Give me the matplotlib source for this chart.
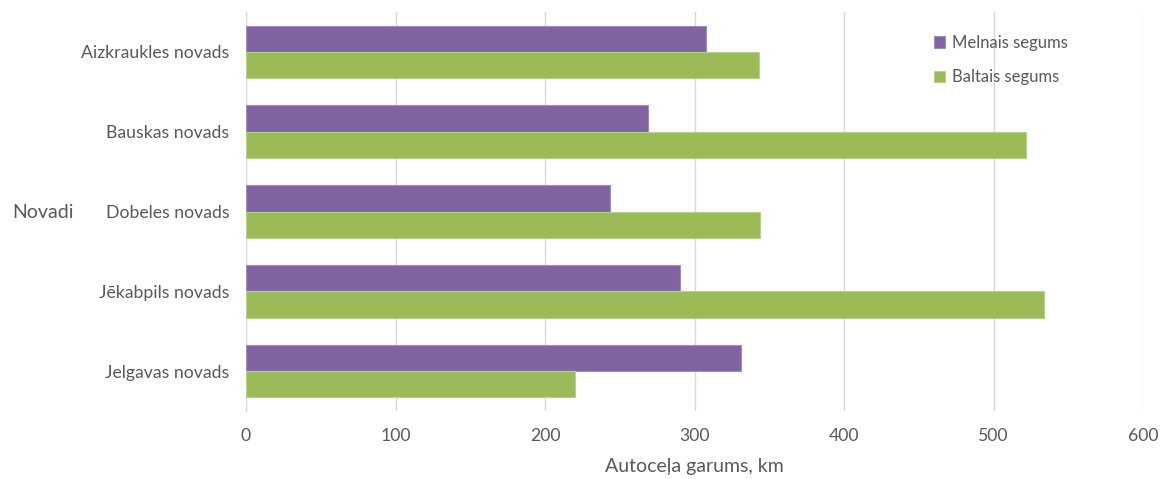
import matplotlib.pyplot as plt
import numpy as np

plt.rcParams['font.family'] = ['Lato', 'DejaVu Sans']

novadi = ["Aizkraukles novads", "Bauskas novads", "Dobeles novads",
          "Jēkabpils novads", "Jelgavas novads"]
melnais = [308, 269, 243.5, 290.5, 331]
baltais = [343, 522, 344, 534, 220]

txt = "#595959"
fig = plt.figure(figsize=(11.61, 4.79), dpi=100)
ax = fig.add_axes([246 / 1161, 1 - 411 / 479, (1143 - 246) / 1161, (411 - 12) / 479])

y = np.arange(len(novadi))
h = 0.33
ax.barh(y - h / 2, melnais, height=h, color="#8064A2", edgecolor="#9F8CC0",
        linewidth=0.8, label="Melnais segums", zorder=3)
ax.barh(y + h / 2, baltais, height=h, color="#9BBB59", edgecolor="#B8D08A",
        linewidth=0.8, label="Baltais segums", zorder=3)

ax.set_xlim(0, 600)
ax.set_ylim(len(novadi) - 0.5, -0.5)
ax.set_xticks(range(0, 601, 100))
ax.set_yticks(y)
ax.set_yticklabels(novadi)
ax.grid(axis="x", color="#D9D9D9", linewidth=1, zorder=0)
for s in ["top", "right", "bottom"]:
    ax.spines[s].set_visible(False)
ax.spines["left"].set_color("#D9D9D9")
ax.tick_params(length=0, labelsize=12.7, colors=txt)
ax.tick_params(axis="x", pad=12)
ax.tick_params(axis="y", pad=12)

ax.set_xlabel("Autoceļa garums, km", fontsize=14, color=txt, labelpad=10)
fig.text(12 / 1161, 1 - 212 / 479, "Novadi", fontsize=14, color=txt,
         ha="left", va="center")

ax.legend(loc="upper left", bbox_to_anchor=(0.75, 0.98), frameon=False,
          fontsize=12, labelcolor=txt, handlelength=0.7, handleheight=0.7,
          handletextpad=0.4, labelspacing=1.1)

fig.savefig("out.png", dpi=100)
